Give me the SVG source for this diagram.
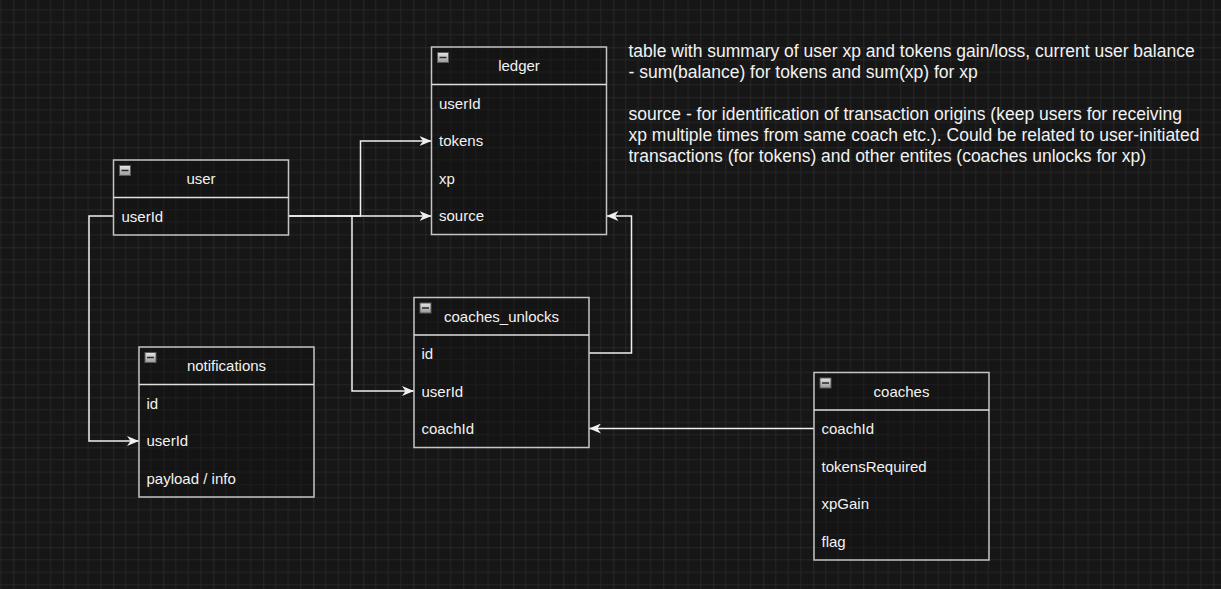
<svg xmlns="http://www.w3.org/2000/svg" width="1221" height="589" viewBox="0 0 1221 589">
<style>
.tbl{fill:#121212;fill-opacity:0.35;stroke:#c4c4c4;stroke-width:1.5}
.sep{stroke:#dedede;stroke-width:1.5}
.ttl{font-family:"Liberation Sans",Arial,sans-serif;font-size:15px;fill:#f2f2f2;text-anchor:middle}
.fld{font-family:"Liberation Sans",Arial,sans-serif;font-size:15px;fill:#f2f2f2}
.note{font-family:"Liberation Sans",Arial,sans-serif;font-size:17.5px;fill:#f2f2f2}
.edge{fill:none;stroke:#f0f0f0;stroke-width:1.5}
.mbox{fill:url(#mg);stroke:#5a5a5a;stroke-width:1}
.mline{stroke:#2a2a2a;stroke-width:1.5}
</style>
<defs>
<pattern id="grid" patternUnits="userSpaceOnUse" x="13.3" y="-2.7" width="50" height="50">
<path d="M12.5 0V50M25 0V50M37.5 0V50M0 12.5H50M0 25H50M0 37.5H50" stroke="#252525" stroke-width="1"/>
<path d="M0 0V50M0 0H50" stroke="#3a3a3a" stroke-width="1"/>
</pattern>
<linearGradient id="mg" x1="0" y1="0" x2="0" y2="1">
<stop offset="0" stop-color="#e6e6e6"/>
<stop offset="1" stop-color="#9a9a9a"/>
</linearGradient>
<marker id="arr" markerUnits="userSpaceOnUse" viewBox="0 0 12 10" refX="12" refY="5" markerWidth="12" markerHeight="10" orient="auto">
<path d="M0 0L12 5L0 10L3.5 5Z" fill="#f0f0f0"/>
</marker>
</defs>
<rect width="1221" height="589" fill="#161616"/>
<rect width="1221" height="589" fill="url(#grid)"/>

<g id="connectors">
<path class="edge" d="M288.5 216H360.5V141H431.5" marker-end="url(#arr)"/>
<path class="edge" d="M288.5 216H431.5" marker-end="url(#arr)"/>
<path class="edge" d="M352 216V391H414" marker-end="url(#arr)"/>
<path class="edge" d="M113.5 216H89V441H139" marker-end="url(#arr)"/>
<path class="edge" d="M589 353H631.5V216H606.5" marker-end="url(#arr)"/>
<path class="edge" d="M814 428.5H589" marker-end="url(#arr)"/>
</g>

<g id="user">
<rect class="tbl" x="113.5" y="160" width="175" height="75"/>
<line class="sep" x1="113.5" y1="197.5" x2="288.5" y2="197.5"/>
<rect class="mbox" x="119.5" y="165.5" width="11" height="10"/>
<line class="mline" x1="121.5" y1="170.5" x2="128.5" y2="170.5"/>
<text class="ttl" x="201" y="184">user</text>
<text class="fld" x="121.5" y="221.5">userId</text>
</g>

<g id="ledger">
<rect class="tbl" x="431.5" y="47" width="175" height="187.5"/>
<line class="sep" x1="431.5" y1="84.5" x2="606.5" y2="84.5"/>
<rect class="mbox" x="437.5" y="52.5" width="11" height="10"/>
<line class="mline" x1="439.5" y1="57.5" x2="446.5" y2="57.5"/>
<text class="ttl" x="519" y="71">ledger</text>
<text class="fld" x="439" y="108.5">userId</text>
<text class="fld" x="439" y="146">tokens</text>
<text class="fld" x="439" y="183.5">xp</text>
<text class="fld" x="439" y="221">source</text>
</g>

<g id="coaches_unlocks">
<rect class="tbl" x="414" y="297.5" width="175" height="150"/>
<line class="sep" x1="414" y1="335" x2="589" y2="335"/>
<rect class="mbox" x="420" y="303" width="11" height="10"/>
<line class="mline" x1="422" y1="308" x2="429" y2="308"/>
<text class="ttl" x="501.5" y="321.5">coaches_unlocks</text>
<text class="fld" x="421.5" y="359">id</text>
<text class="fld" x="421.5" y="396.5">userId</text>
<text class="fld" x="421.5" y="434">coachId</text>
</g>

<g id="notifications">
<rect class="tbl" x="139" y="347" width="175" height="150"/>
<line class="sep" x1="139" y1="384.5" x2="314" y2="384.5"/>
<rect class="mbox" x="145" y="352.5" width="11" height="10"/>
<line class="mline" x1="147" y1="357.5" x2="154" y2="357.5"/>
<text class="ttl" x="226.5" y="371">notifications</text>
<text class="fld" x="146.5" y="408.5">id</text>
<text class="fld" x="146.5" y="446">userId</text>
<text class="fld" x="146.5" y="483.5">payload / info</text>
</g>

<g id="coaches">
<rect class="tbl" x="814" y="372.5" width="175" height="187.5"/>
<line class="sep" x1="814" y1="410" x2="989" y2="410"/>
<rect class="mbox" x="820" y="378" width="11" height="10"/>
<line class="mline" x1="822" y1="383" x2="829" y2="383"/>
<text class="ttl" x="901.5" y="396.5">coaches</text>
<text class="fld" x="821.5" y="434">coachId</text>
<text class="fld" x="821.5" y="471.5">tokensRequired</text>
<text class="fld" x="821.5" y="509">xpGain</text>
<text class="fld" x="821.5" y="546.5">flag</text>
</g>

<g id="note">
<text class="note" x="628.5" y="57">table with summary of user xp and tokens gain/loss, current user balance</text>
<text class="note" x="628.5" y="78">- sum(balance) for tokens and sum(xp) for xp</text>
<text class="note" x="628.5" y="120">source - for identification of transaction origins (keep users for receiving</text>
<text class="note" x="628.5" y="141">xp multiple times from same coach etc.). Could be related to user-initiated</text>
<text class="note" x="628.5" y="162">transactions (for tokens) and other entites (coaches unlocks for xp)</text>
</g>
</svg>
